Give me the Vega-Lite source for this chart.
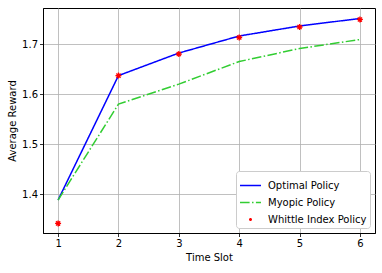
{
  "$schema": "https://vega.github.io/schema/vega-lite/v6.json",
  "width": 332,
  "height": 225,
  "autosize": "none",
  "padding": {"left": 43, "top": 8, "right": 7, "bottom": 40},
  "background": "white",
  "config": {
    "font": "DejaVu Sans",
    "view": {"stroke": "black", "strokeWidth": 1},
    "axis": {
      "grid": true,
      "gridColor": "#b0b0b0",
      "gridWidth": 0.8,
      "domainColor": "black",
      "domainWidth": 1,
      "tickColor": "black",
      "tickSize": 3.5,
      "tickWidth": 0.8,
      "labelFont": "DejaVu Sans",
      "labelFontSize": 10,
      "labelColor": "black",
      "titleFont": "DejaVu Sans",
      "titleFontSize": 10,
      "titleFontWeight": "normal",
      "titleColor": "black",
      "labelPadding": 2
    },
    "legend": {
      "labelFont": "DejaVu Sans",
      "labelFontSize": 10,
      "labelColor": "black"
    }
  },
  "data": {
    "values": [
      {"t": 1, "v": 1.3886, "series": "Optimal Policy"},
      {"t": 2, "v": 1.637, "series": "Optimal Policy"},
      {"t": 3, "v": 1.682, "series": "Optimal Policy"},
      {"t": 4, "v": 1.716, "series": "Optimal Policy"},
      {"t": 5, "v": 1.736, "series": "Optimal Policy"},
      {"t": 6, "v": 1.751, "series": "Optimal Policy"},
      {"t": 1, "v": 1.3886, "series": "Myopic Policy"},
      {"t": 2, "v": 1.58, "series": "Myopic Policy"},
      {"t": 3, "v": 1.62, "series": "Myopic Policy"},
      {"t": 4, "v": 1.665, "series": "Myopic Policy"},
      {"t": 5, "v": 1.691, "series": "Myopic Policy"},
      {"t": 6, "v": 1.709, "series": "Myopic Policy"},
      {"t": 1, "v": 1.342, "series": "Whittle Index Policy"},
      {"t": 2, "v": 1.637, "series": "Whittle Index Policy"},
      {"t": 3, "v": 1.680, "series": "Whittle Index Policy"},
      {"t": 4, "v": 1.713, "series": "Whittle Index Policy"},
      {"t": 5, "v": 1.734, "series": "Whittle Index Policy"},
      {"t": 6, "v": 1.749, "series": "Whittle Index Policy"}
    ]
  },
  "encoding": {
    "x": {
      "field": "t", "type": "quantitative",
      "scale": {"domain": [0.75, 6.25], "nice": false, "zero": false},
      "axis": {"values": [1, 2, 3, 4, 5, 6], "title": "Time Slot", "titlePadding": 4}
    },
    "y": {
      "field": "v", "type": "quantitative",
      "scale": {"domain": [1.3228, 1.7719], "nice": false, "zero": false},
      "axis": {"values": [1.4, 1.5, 1.6, 1.7], "format": ".1f", "title": "Average Reward", "titlePadding": 4}
    },
    "color": {
      "field": "series", "type": "nominal",
      "scale": {
        "domain": ["Optimal Policy", "Myopic Policy", "Whittle Index Policy"],
        "range": ["#0000ff", "#32cd32", "#ff0000"]
      },
      "legend": {
        "title": null,
        "orient": "bottom-right",
        "offset": 5,
        "padding": 3,
        "fillColor": "white",
        "strokeColor": "#cccccc",
        "cornerRadius": 3,
        "rowPadding": -1,
        "symbolSize": 440,
        "symbolStrokeWidth": 1.5,
        "labelOffset": 6,
        "encode": {
          "symbols": {
            "update": {
              "shape": [
                {"test": "datum.value === 'Whittle Index Policy'", "value": "M-0.14,0L0.14,0M0,-0.14L0,0.14M-0.1,-0.1L0.1,0.1M-0.1,0.1L0.1,-0.1"},
                {"value": "stroke"}
              ],
              "strokeDash": [
                {"test": "datum.value === 'Myopic Policy'", "value": [9.6, 2.4, 1.5, 2.4]},
                {"value": [1, 0]}
              ]
            }
          }
        }
      }
    }
  },
  "layer": [
    {
      "transform": [{"filter": "datum.series !== 'Whittle Index Policy'"}],
      "mark": {"type": "line", "strokeWidth": 1.5, "clip": true},
      "encoding": {
        "strokeDash": {
          "field": "series", "type": "nominal",
          "scale": {"domain": ["Optimal Policy", "Myopic Policy"], "range": [[1, 0], [9.6, 2.4, 1.5, 2.4]]},
          "legend": null
        }
      }
    },
    {
      "transform": [{"filter": "datum.series === 'Whittle Index Policy'"}],
      "mark": {
        "type": "point",
        "shape": "M-1,0L1,0M0,-1L0,1M-0.7,-0.7L0.7,0.7M-0.7,0.7L0.7,-0.7",
        "filled": false,
        "size": 36,
        "strokeWidth": 1.3,
        "opacity": 1,
        "clip": true
      }
    }
  ]
}
